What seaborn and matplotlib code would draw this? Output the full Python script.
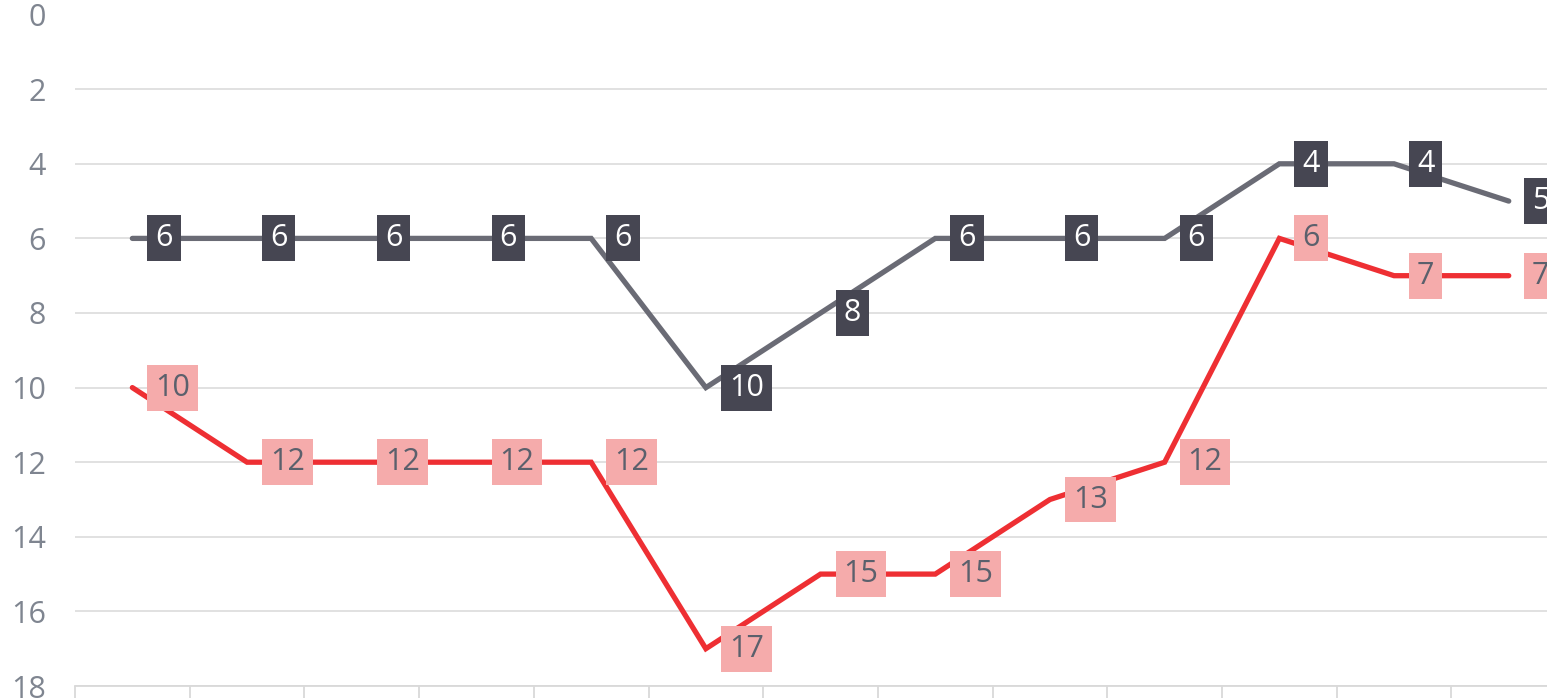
import matplotlib
matplotlib.use("Agg")
import matplotlib.pyplot as plt
import seaborn as sns
import pandas as pd
import numpy as np

# ---- data ----
periods = list(range(1, 14))
series_a = [6, 6, 6, 6, 6, 10, 8, 6, 6, 6, 4, 4, 5]        # gray series
series_b = [10, 12, 12, 12, 12, 17, 15, 15, 13, 12, 6, 7, 7]  # red series
series_names = ["A", "B"]
y_ticks = [0, 2, 4, 6, 8, 10, 12, 14, 16, 18]

# ---- styles ----
line_colors = {"A": "#6A6B75", "B": "#EE2F33"}
box_colors = {"A": "#464652", "B": "#F5ABAB"}
text_colors = {"A": "#FFFFFF", "B": "#5B606C"}

sns.set_style("white")
plt.rcParams["font.family"] = ["Open Sans", "DejaVu Sans"]

df = pd.DataFrame({
    "pos": list(range(len(periods))) * 2,
    "value": series_a + series_b,
    "series": ["A"] * len(periods) + ["B"] * len(periods),
})

W, H = 1547, 698
fig = plt.figure(figsize=(W / 100, H / 100), dpi=100)
left_px, right_px = 75, 75 + 13 * 114.7
top_px, bot_px = 14.6, 686
ax = fig.add_axes([left_px / W, (H - bot_px) / H, (right_px - left_px) / W, (bot_px - top_px) / H])

sns.lineplot(data=df, x="pos", y="value", hue="series", palette=line_colors,
             hue_order=series_names, sort=False, linewidth=3.8, legend=False, ax=ax,
             solid_capstyle="round", solid_joinstyle="miter")

ax.set_xlim(-0.5, len(periods) - 0.5)
ax.set_ylim(18, 0)
ax.set_yticks(y_ticks)
ax.set_xticks([])
ax.set_xticks(np.arange(-0.5, len(periods), 1.0), minor=True)
ax.tick_params(axis="x", which="minor", bottom=True, length=8.6, width=1.3,
               color="#D9D9D9", direction="out")
ax.tick_params(axis="y", left=False, length=0, pad=21, labelsize=22, labelcolor="#7F8590")
ax.set_xlabel("")
ax.set_ylabel("")

ax.grid(axis="y", color="#DEDEDE", linewidth=1.3)
ax.set_axisbelow(True)
ax.yaxis.get_gridlines()[0].set_visible(False)
for s in ["top", "left", "right"]:
    ax.spines[s].set_visible(False)
ax.spines["bottom"].set_color("#D9D9D9")
ax.spines["bottom"].set_linewidth(1.3)

for name, vals in zip(series_names, [series_a, series_b]):
    for i, v in enumerate(vals):
        ax.annotate(str(v), xy=(i, v), xytext=(23, 0), textcoords="offset pixels",
                    ha="left", va="center", fontsize=22, color=text_colors[name],
                    bbox=dict(boxstyle="square,pad=0.26", fc=box_colors[name], ec="none"),
                    zorder=5)

fig.savefig("out.png", dpi=100)
